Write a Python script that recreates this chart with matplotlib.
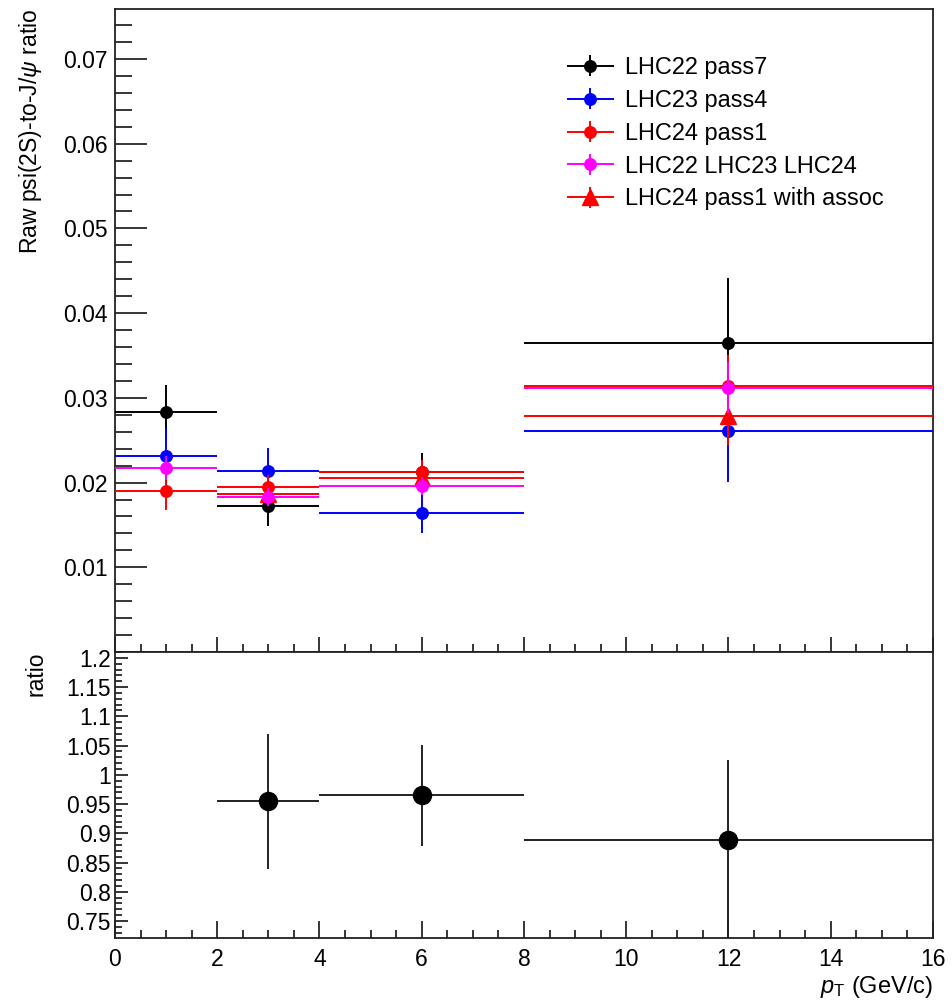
import matplotlib
matplotlib.use("Agg")
import matplotlib.pyplot as plt
import numpy as np
from matplotlib.container import ErrorbarContainer
from matplotlib.legend_handler import HandlerErrorbar
from matplotlib.ticker import FixedLocator, MultipleLocator, FormatStrFormatter

plt.rcParams["font.family"] = ["Liberation Sans", "DejaVu Sans"]
plt.rcParams["mathtext.fontset"] = "custom"
plt.rcParams["mathtext.rm"] = "Liberation Sans"
plt.rcParams["mathtext.it"] = "Liberation Sans:italic"

# pT bins (GeV/c)
bin_edges = [0, 2, 4, 8, 16]
pt_center = np.array([1, 3, 6, 12])
pt_halfw = np.array([1, 1, 2, 4])

# raw psi(2S)/J/psi ratio per period
lhc22_y = [0.0283, 0.0172, 0.0212, 0.0365]
lhc22_err = [0.0032, 0.0023, 0.0023, 0.0076]
lhc23_y = [0.0231, 0.0214, 0.0164, 0.0261]
lhc23_err = [0.0033, 0.0027, 0.0023, 0.0060]
lhc24_y = [0.0190, 0.0195, 0.0213, 0.0314]
lhc24_err = [0.0022, 0.0014, 0.0014, 0.0037]
comb_y = [0.0217, 0.0183, 0.0196, 0.0312]
comb_err = [0.0014, 0.0011, 0.0011, 0.0030]
# with assoc: only bins 2-4, 4-8, 8-16
assoc_y = [0.0186, 0.0205, 0.0279]
assoc_err = [0.0014, 0.0014, 0.0035]

# ratio: with assoc / pass1
ratio_y = [0.955, 0.965, 0.888]
ratio_lo = [0.116, 0.087, 0.18]
ratio_hi = [0.115, 0.086, 0.138]

FS = 16.5
W = 953

fig = plt.figure(figsize=(9.53, 10), dpi=100)
ax1 = fig.add_axes([115 / W, 0.348, 818 / W, 0.643])
ax2 = fig.add_axes([115 / W, 0.062, 818 / W, 0.286])

series = [
    (lhc22_y, lhc22_err, "black", "o", 8.3, "LHC22 pass7"),
    (lhc23_y, lhc23_err, "#0000ff", "o", 8.3, "LHC23 pass4"),
    (lhc24_y, lhc24_err, "#ff0000", "o", 8.3, "LHC24 pass1"),
    (assoc_y, assoc_err, "#ff0000", "^", 12, "LHC24 pass1 with assoc"),
    (comb_y, comb_err, "#ff00ff", "o", 8.3, "LHC22 LHC23 LHC24"),
]

handles = {}
for z, (y, err, col, mk, ms, lab) in enumerate(series):
    sel = slice(1, None) if len(y) == 3 else slice(None)
    h = ax1.errorbar(pt_center[sel], y, xerr=pt_halfw[sel], yerr=err, fmt=mk,
                     color=col, ms=ms, elinewidth=1.4, capsize=0, zorder=3 + z,
                     label=lab)
    handles[lab] = h

order = ["LHC22 pass7", "LHC23 pass4", "LHC24 pass1", "LHC22 LHC23 LHC24",
         "LHC24 pass1 with assoc"]
ax1.legend([handles[k] for k in order], order, loc="upper left",
           bbox_to_anchor=(567 / W, 0.944), bbox_transform=fig.transFigure,
           frameon=False, fontsize=FS + 0.4, handlelength=2.0, handletextpad=0.45,
           labelspacing=0.42, borderpad=0, borderaxespad=0, numpoints=1,
           handler_map={ErrorbarContainer: HandlerErrorbar(xerr_size=1.0, yerr_size=0.45)})

ax1.set_xlim(0, 16)
ax1.set_ylim(0, 0.0759)
ax1.yaxis.set_major_locator(FixedLocator([0.01, 0.02, 0.03, 0.04, 0.05, 0.06, 0.07]))
ax1.yaxis.set_minor_locator(MultipleLocator(0.002))
ax1.yaxis.set_major_formatter(FormatStrFormatter("%.2f"))
ax1.xaxis.set_major_locator(MultipleLocator(2))
ax1.xaxis.set_minor_locator(MultipleLocator(0.5))
ax1.tick_params(axis="y", which="major", direction="in", length=23, width=1.1,
                labelsize=FS, pad=5)
ax1.tick_params(axis="y", which="minor", direction="in", length=12, width=1.1)
ax1.tick_params(axis="x", which="major", direction="in", length=11, width=1.1,
                labelbottom=False)
ax1.tick_params(axis="x", which="minor", direction="in", length=5.8, width=1.1)
ax1.set_ylabel(r"Raw psi(2S)-to-J/$\psi$ ratio", fontsize=FS, loc="top")
ax1.yaxis.set_label_coords(-0.087, 1.0)

# ratio panel
ax2.errorbar(pt_center[1:], ratio_y, xerr=pt_halfw[1:], yerr=[ratio_lo, ratio_hi],
             fmt="o", color="black", ms=13, elinewidth=1.4, ecolor="#222222",
             capsize=0, zorder=3)
ax2.set_xlim(0, 16)
ax2.set_ylim(0.721, 1.21)
ax2.yaxis.set_major_locator(MultipleLocator(0.05))
ax2.yaxis.set_minor_locator(MultipleLocator(0.01))
ax2.yaxis.set_major_formatter(matplotlib.ticker.FuncFormatter(
    lambda v, p: f"{v:.2f}".rstrip("0").rstrip(".")))
ax2.xaxis.set_major_locator(MultipleLocator(2))
ax2.xaxis.set_minor_locator(MultipleLocator(0.5))
ax2.tick_params(axis="y", which="major", direction="in", length=9.4, width=1.1,
                labelsize=FS, pad=3)
ax2.tick_params(axis="y", which="minor", direction="in", length=5, width=1.1)
ax2.tick_params(axis="x", which="major", direction="in", length=12, width=1.1,
                labelsize=FS, pad=7)
ax2.tick_params(axis="x", which="minor", direction="in", length=5.8, width=1.1)
ax2.set_ylabel("ratio", fontsize=FS, loc="top")
ax2.yaxis.set_label_coords(-0.083, 1.0)
ax2.set_xlabel(r"$p_{\mathrm{T}}$ (GeV/c)", fontsize=FS + 0.5, loc="right")
ax2.xaxis.set_label_coords(1.0, -0.125)

for ax in (ax1, ax2):
    for s in ax.spines.values():
        s.set_linewidth(1.3)
        s.set_color("#222222")

fig.savefig("out.png", dpi=100)
